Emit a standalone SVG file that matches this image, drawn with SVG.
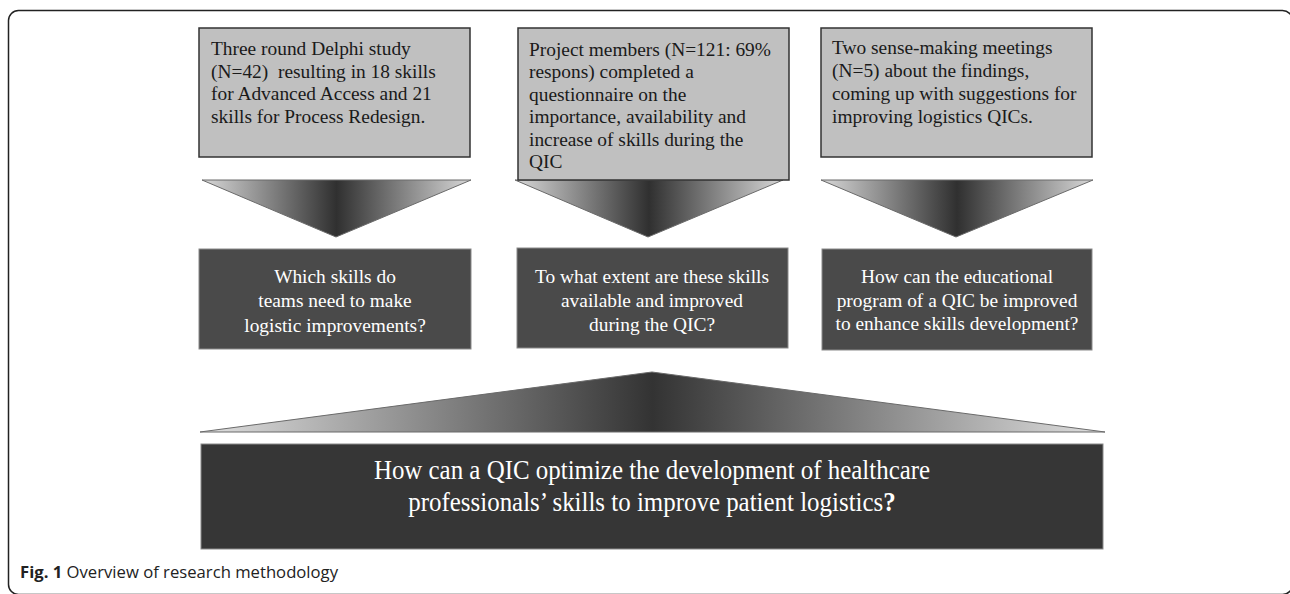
<svg xmlns="http://www.w3.org/2000/svg" width="1290" height="594" viewBox="0 0 1290 594">
<defs>
<linearGradient id="gDown" x1="0" y1="0" x2="1" y2="0">
<stop offset="0" stop-color="#d8d8d8"/>
<stop offset="0.5" stop-color="#303030"/>
<stop offset="1" stop-color="#d8d8d8"/>
</linearGradient>
<linearGradient id="gUp" x1="0" y1="0" x2="1" y2="0">
<stop offset="0" stop-color="#e0e0e0"/>
<stop offset="0.5" stop-color="#333333"/>
<stop offset="1" stop-color="#e0e0e0"/>
</linearGradient>
</defs>
<style>
.light{fill:#c0c0c0;stroke:#333333;stroke-width:1.5}
.dark{fill:#4a4a4a;stroke:#8a8a8a;stroke-width:1}
.main{fill:#363636;stroke:#8a8a8a;stroke-width:1}
.tri{stroke:#6a6a6a;stroke-width:1}
.t{font-family:"Liberation Serif","Times New Roman",serif;font-size:19.4px;fill:#1a1a1a}
.w{font-family:"Liberation Serif","Times New Roman",serif;font-size:19.4px;fill:#ffffff;text-anchor:middle}
.wb{font-family:"Liberation Serif","Times New Roman",serif;font-size:28px;fill:#ffffff;text-anchor:middle}
.cap{font-family:"Open Sans","Liberation Sans",sans-serif;font-size:16px;fill:#222}
</style>
<rect x="8.5" y="10.5" width="1284" height="584" rx="10" fill="none" stroke="#222" stroke-width="1.5"/>
<g id="connectors">
<polygon class="tri" points="202,180 471,180 336,237" fill="url(#gDown)"/>
<polygon class="tri" points="515,180 783,180 648,237" fill="url(#gDown)"/>
<polygon class="tri" points="821,180 1093,180 956,237" fill="url(#gDown)"/>
<polygon class="tri" points="200,432 652,372 1105,432" fill="url(#gUp)"/>
</g>
<g id="method1">
<rect class="light" x="199" y="28" width="271" height="129"/>
<text class="t" x="211" y="55">Three round Delphi study</text>
<text class="t" x="211" y="78" xml:space="preserve">(N=42)  resulting in 18 skills</text>
<text class="t" x="211" y="100">for Advanced Access and 21</text>
<text class="t" x="211" y="123">skills for Process Redesign.</text>
</g>
<g id="method2">
<rect class="light" x="518" y="28" width="271" height="152"/>
<text class="t" x="529" y="56">Project members (N=121: 69%</text>
<text class="t" x="529" y="78">respons) completed a</text>
<text class="t" x="529" y="101">questionnaire on the</text>
<text class="t" x="529" y="123">importance, availability and</text>
<text class="t" x="529" y="146">increase of skills during the</text>
<text class="t" x="529" y="168">QIC</text>
</g>
<g id="method3">
<rect class="light" x="821" y="28" width="271" height="129"/>
<text class="t" x="832" y="54">Two sense-making meetings</text>
<text class="t" x="832" y="77">(N=5) about the findings,</text>
<text class="t" x="832" y="100">coming up with suggestions for</text>
<text class="t" x="832" y="123">improving logistics QICs.</text>
</g>
<g id="question1">
<rect class="dark" x="199" y="249" width="272" height="100"/>
<text class="w" x="335" y="283">Which skills do</text>
<text class="w" x="335" y="307">teams need to make</text>
<text class="w" x="335" y="332">logistic improvements?</text>
</g>
<g id="question2">
<rect class="dark" x="517" y="248" width="271" height="100"/>
<text class="w" x="652" y="283">To what extent are these skills</text>
<text class="w" x="652" y="307">available and improved</text>
<text class="w" x="652" y="331">during the QIC?</text>
</g>
<g id="question3">
<rect class="dark" x="822" y="249" width="270" height="101"/>
<text class="w" x="957" y="283">How can the educational</text>
<text class="w" x="957" y="307">program of a QIC be improved</text>
<text class="w" x="957" y="330">to enhance skills development?</text>
</g>
<g id="mainquestion">
<rect class="main" x="201" y="444" width="902" height="105"/>
<g transform="translate(652,0) scale(0.89,1)">
<text class="wb" x="0" y="479">How can a QIC optimize the development of healthcare</text>
<text class="wb" x="0" y="511">professionals’ skills to improve patient logistics<tspan font-weight="bold">?</tspan></text>
</g>
</g>
<text class="cap" x="20" y="578" textLength="318" lengthAdjust="spacingAndGlyphs"><tspan font-weight="bold">Fig. 1</tspan> Overview of research methodology</text>
</svg>
